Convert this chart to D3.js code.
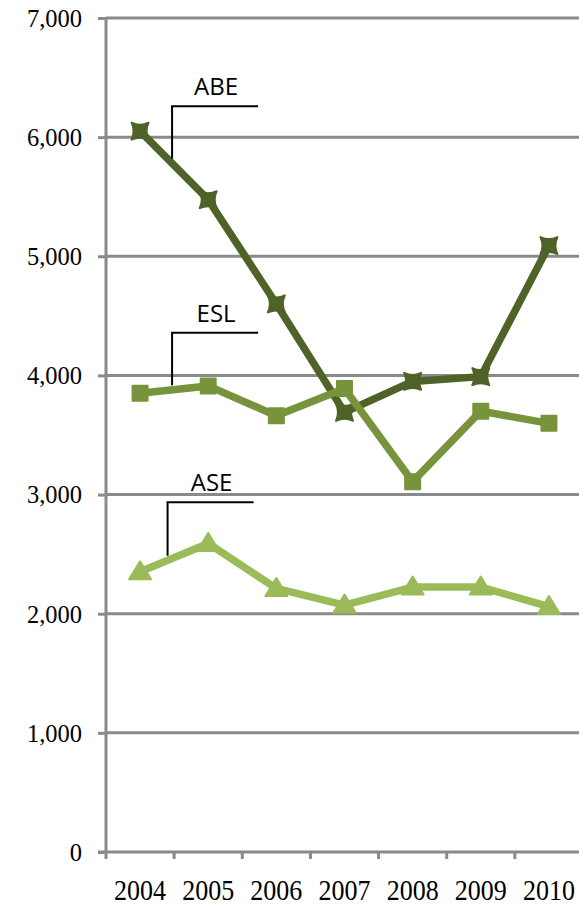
<!DOCTYPE html>
<html>
<head>
<meta charset="utf-8">
<script src="https://cdn.jsdelivr.net/npm/d3@7"></script>
<style>
  html, body { margin: 0; padding: 0; background: #fff; }
  svg { display: block; }
</style>
</head>
<body>
<svg id="chart" width="579" height="905"></svg>
<script>
const years = ["2004", "2005", "2006", "2007", "2008", "2009", "2010"];
const abeValues = [6050, 5475, 4600, 3690, 3950, 3990, 5090];
const eslValues = [3850, 3912, 3662, 3890, 3108, 3700, 3598];
const aseValues = [2352, 2590, 2212, 2072, 2224, 2224, 2060];
const yTicks = [0, 1000, 2000, 3000, 4000, 5000, 6000, 7000];
const seriesNames = ["ABE", "ESL", "ASE"];

const series = [
  { name: seriesNames[0], values: abeValues, color: "#4F6228", marker: "star", label: { dx: 32, dy: -25 } },
  { name: seriesNames[1], values: eslValues, color: "#77933C", marker: "square", label: { dx: 32, dy: -60.5 } },
  { name: seriesNames[2], values: aseValues, color: "#9BBB59", marker: "triangle", label: { dx: 27.5, dy: -69.5 } }
];

const svg = d3.select("#chart");
const mLeft = 106, mRight = 583, mTop = 18, mBottom = 852;
const grid = "#8a8a8a";

const x = d3.scaleBand().domain(years).range([mLeft, mRight]).padding(0);
const y = d3.scaleLinear().domain([0, 7000]).range([mBottom, mTop]);
const cx = d => x(d) + x.bandwidth() / 2;

// gridlines
svg.append("g").selectAll("line").data(yTicks.filter(t => t > 0)).join("line")
  .attr("x1", mLeft).attr("x2", mRight)
  .attr("y1", d => y(d)).attr("y2", d => y(d))
  .attr("stroke", grid).attr("stroke-width", 3);

// y axis
const yAxis = svg.append("g").attr("transform", `translate(${mLeft},0)`)
  .call(d3.axisLeft(y).tickValues(yTicks).tickSize(8).tickPadding(16).tickFormat(d3.format(",")));
yAxis.select(".domain").attr("stroke", grid).attr("stroke-width", 3).attr("d", `M0,${mTop}V${mBottom + 7}`);
yAxis.selectAll(".tick line").attr("stroke", grid).attr("stroke-width", 3);
yAxis.selectAll(".tick text")
  .attr("font-family", "'Liberation Serif', 'Times New Roman', serif")
  .attr("font-size", 24.5).attr("fill", "#000").attr("dy", "0.34em");

// x axis
const xAxis = svg.append("g").attr("transform", `translate(0,${mBottom})`)
  .call(d3.axisBottom(x).tickSize(0).tickPadding(0));
xAxis.select(".domain").attr("stroke", grid).attr("stroke-width", 3).attr("d", `M${mLeft - 8},0H${mRight}`);
xAxis.selectAll(".tick text").remove();
// tick marks at category boundaries
svg.append("g").selectAll("line").data(years).join("line")
  .attr("x1", d => x(d) + x.bandwidth())
  .attr("x2", d => x(d) + x.bandwidth())
  .attr("y1", mBottom).attr("y2", mBottom + 7)
  .attr("stroke", grid).attr("stroke-width", 3);
// x labels
svg.append("g").selectAll("text").data(years).join("text")
  .attr("transform", d => `translate(${cx(d)},${mBottom + 48}) scale(1,1.12)`)
  .attr("text-anchor", "middle")
  .attr("font-family", "'Liberation Serif', 'Times New Roman', serif")
  .attr("font-size", 26).attr("fill", "#000")
  .text(d => d);

// lines
const line = d3.line().x((d, i) => cx(years[i])).y(d => y(d));
const markerPath = {
  star: "M-8.5,-8.5 Q0,-4.5 8.5,-8.5 Q4.5,0 8.5,8.5 Q0,4.5 -8.5,8.5 Q-4.5,0 -8.5,-8.5 Z",
  square: "M-7.5,-7.5 H7.5 V7.5 H-7.5 Z",
  triangle: "M0,-10.5 L11,7.5 L-11,7.5 Z"
};

series.forEach(s => {
  const g = svg.append("g");
  g.append("path").datum(s.values).attr("d", line)
    .attr("fill", "none").attr("stroke", s.color).attr("stroke-width", 7.5)
    .attr("stroke-linejoin", "round");
  g.selectAll("path.m").data(s.values).join("path").attr("class", "m")
    .attr("transform", (d, i) => `translate(${cx(years[i])},${y(d)})`)
    .attr("d", markerPath[s.marker])
    .attr("fill", s.color).attr("stroke", s.color).attr("stroke-width", 2)
    .attr("stroke-linejoin", "round");
});

// data labels with leader lines (attached to first point)
series.forEach(s => {
  const px = cx(years[0]), py = y(s.values[0]);
  const lx = px + s.label.dx, ly = py + s.label.dy;
  const px2 = cx(years[1]), py2 = y(s.values[1]);
  const ey = py + (py2 - py) * (lx - px) / (px2 - px) - 4.5;
  svg.append("path")
    .attr("d", `M${lx + 86},${ly} H${lx} V${ey}`)
    .attr("fill", "none").attr("stroke", "#000").attr("stroke-width", 2);
  svg.append("text")
    .attr("x", lx + 44).attr("y", ly - 11)
    .attr("text-anchor", "middle")
    .attr("font-family", "'Open Sans', 'Noto Sans', sans-serif")
    .attr("font-size", 24).attr("fill", "#000")
    .text(s.name);
});
</script>
</body>
</html>
